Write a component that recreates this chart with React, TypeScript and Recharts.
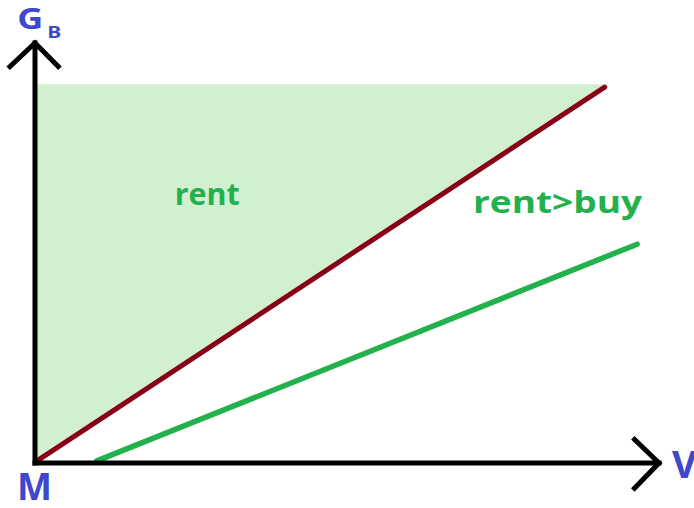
import React from "react";
import { ComposedChart, Line, Area, XAxis, YAxis, ReferenceDot } from "recharts";

// Conceptual diagram: x = V (0..100 up to arrow tip), y = G_B (0..100 up to arrow tip)
const yAxisLine = [{ x: 0, y: 0 }, { x: 0, y: 100 }];
const xAxisLine = [{ x: 0, y: 0 }, { x: 100, y: 0 }];
const yArrowHead = [{ x: -4.3, y: 94 }, { x: 0, y: 100 }, { x: 4.0, y: 94 }];
const xArrowHead = [{ x: 95.8, y: 6.0 }, { x: 100, y: 0 }, { x: 95.8, y: -6.4 }];
const rentBoundary = [{ x: 0.5, y: 0.7 }, { x: 91.3, y: 89.5 }];
const rentRegion = [{ x: 0, y: [0, 90.2] }, { x: 91.3, y: [89.5, 90.2] }];
const buyLine = [{ x: 9.9, y: 0.5 }, { x: 96.5, y: 52.1 }];

const labelTexts = ["G", "B", "M", "V", "rent", "rent>buy"];
const labelAnchors = [
  { x: -2.84, y: 103.45 },
  { x: 1.97, y: 101.3 },
  { x: -2.9, y: -8.8 },
  { x: 102.1, y: -3.6 },
  { x: 22.4, y: 61.4 },
  { x: 70.2, y: 59.5 },
];

const BLUE = "#3f48cc";
const GREEN = "#22b14c";
const RED = "#880015";
const FILL = "#d2f0d0";
const FONT = "'Open Sans', sans-serif";

const labelStyles = [
  { size: 28, color: BLUE, len: 26 },
  { size: 16, color: BLUE, len: 14 },
  { size: 37, color: BLUE, len: 35 },
  { size: 38, color: BLUE },
  { size: 30, color: GREEN, len: 65 },
  { size: 30, color: GREEN, len: 169 },
];

export default function App() {
  return (
    <div style={{ position: "absolute", left: 0, top: 0, width: 694, height: 508, background: "#fff", overflow: "hidden" }}>
      <ComposedChart width={694} height={508} margin={{ top: 22, right: 3.8, bottom: 3, left: 3.8 }}>
        <XAxis type="number" dataKey="x" domain={[-5, 105]} hide allowDataOverflow />
        <YAxis type="number" dataKey="y" domain={[-10, 105]} hide allowDataOverflow />
        <Area
          data={rentRegion}
          dataKey="y"
          type="linear"
          fill={FILL}
          fillOpacity={1}
          stroke="none"
          isAnimationActive={false}
        />
        <Line data={rentBoundary} dataKey="y" type="linear" stroke={RED} strokeWidth={5} strokeLinecap="round" dot={false} isAnimationActive={false} />
        <Line data={buyLine} dataKey="y" type="linear" stroke={GREEN} strokeWidth={5.5} strokeLinecap="round" dot={false} isAnimationActive={false} />
        <Line data={yAxisLine} dataKey="y" type="linear" stroke="#000" strokeWidth={5} strokeLinecap="square" dot={false} isAnimationActive={false} />
        <Line data={xAxisLine} dataKey="y" type="linear" stroke="#000" strokeWidth={5} strokeLinecap="square" dot={false} isAnimationActive={false} />
        <Line data={yArrowHead} dataKey="y" type="linear" stroke="#000" strokeWidth={5} dot={false} isAnimationActive={false} />
        <Line data={xArrowHead} dataKey="y" type="linear" stroke="#000" strokeWidth={5} dot={false} isAnimationActive={false} />
        {labelAnchors.map((a, i) => (
          <ReferenceDot
            key={i}
            x={a.x}
            y={a.y}
            r={0}
            fill="none"
            stroke="none"
            ifOverflow="visible"
            label={{
              content: (p: any) => {
                const vb = p.viewBox || {};
                const st = labelStyles[i];
                return (
                  <text
                    x={vb.x}
                    y={vb.y}
                    fill={st.color}
                    fontSize={st.size}
                    fontWeight={700}
                    fontFamily={FONT}
                    textAnchor="start"
                    textLength={st.len}
                    lengthAdjust={st.len ? "spacingAndGlyphs" : undefined}
                  >
                    {labelTexts[i]}
                  </text>
                );
              },
            }}
          />
        ))}
      </ComposedChart>
    </div>
  );
}
